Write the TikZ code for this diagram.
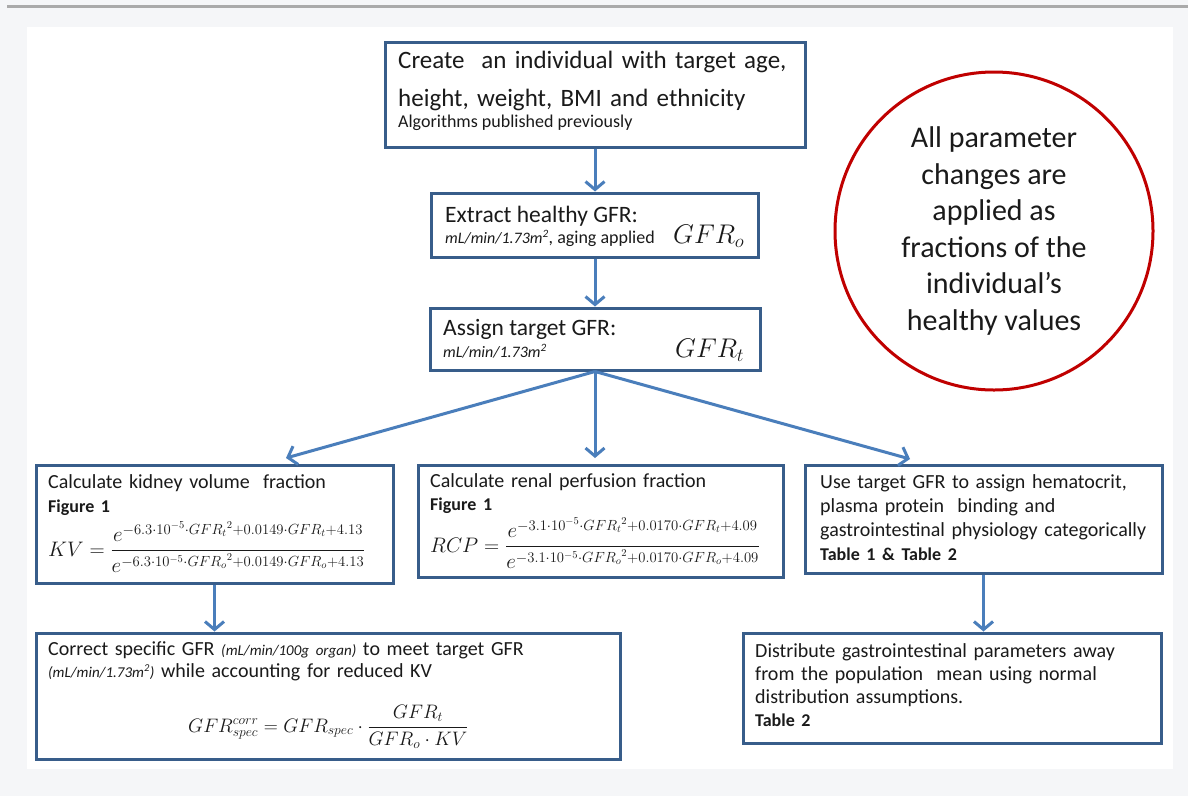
\RequirePackage{fix-cm}
\documentclass[tikz,border=0pt]{standalone}
\usepackage{amsmath}
\usepackage{fontspec}
\setmainfont{Carlito}
\usetikzlibrary{arrows.meta}
\definecolor{boxblue}{HTML}{385D8A}
\definecolor{arrblue}{HTML}{4A7EBB}
\definecolor{circred}{HTML}{C00000}
\definecolor{pagegray}{HTML}{F5F6F8}
\definecolor{bargray}{HTML}{AAAAAA}
\definecolor{inkblack}{HTML}{1A1A1A}
\newcommand{\fs}[2]{\fontsize{#1}{#2}\selectfont}
\tikzset{
    box/.style={draw=boxblue, line width=3pt, fill=white, inner sep=0pt},
    lbl/.style={anchor=base west, inner sep=0pt, text=inkblack},
    para/.style={lbl, align=left},
    arr/.style={draw=arrblue, line width=3pt, -{Straight Barb[length=8pt,width=19pt]}}
}
\begin{document}
\begin{tikzpicture}[x=1pt,y=-1pt]
    \useasboundingbox (0,0) rectangle (1188,796);
    \fill[pagegray] (0,0) rectangle (1188,796);
    \draw[bargray, line width=3pt] (7,6.5) -- (1188,6.5);
    \fill[white] (27,27) rectangle (1173,769);
    % boxes
    \node[box, minimum width=420, minimum height=105] (create) at (595,94.5) {};
    \node[box, minimum width=327, minimum height=64] (extract) at (595,225) {};
    \node[box, minimum width=330, minimum height=62] (assign) at (595,339) {};
    \node[box, minimum width=357, minimum height=118] (kv) at (214.5,524) {};
    \node[box, minimum width=365, minimum height=112] (rcp) at (600.5,521) {};
    \node[box, minimum width=357, minimum height=108] (hema) at (983.5,519) {};
    \node[box, minimum width=584, minimum height=126] (corr) at (328,696) {};
    \node[box, minimum width=418, minimum height=110] (dist) at (952,688) {};
    \node[circle, draw=circred, line width=3pt, minimum size=318, align=center,
          text=inkblack, font=\fs{30}{36.5}] (note) at (994,231)
          {All parameter\\changes are\\applied as\\fractions of the\\individual’s\\healthy values};
    % texts
    \node[para, text width=450, font=\fs{25}{38}] (createtx) at (398,68)
          {Create\ \ an individual with target age,\\height, weight, BMI and ethnicity};
    \node[lbl, font=\fs{18}{22}] (createsub) at (398,127) {Algorithms published previously};
    \node[lbl, font=\fs{23.5}{28}] (extracttx) at (445,222) {Extract healthy GFR:};
    \node[lbl, font=\fs{18}{20}] (extractsub) at (445,243)
          {{\fs{16}{18}\itshape mL/min/1.73m\textsuperscript{2}}, aging applied};
    \node[lbl, font=\fs{27}{32}] (gfro) at (673,243) {$GFR_o$};
    \node[lbl, font=\fs{23.5}{28}] (assigntx) at (443,335) {Assign target GFR:};
    \node[lbl, font=\fs{16}{18}\itshape] (assignsub) at (443,357) {mL/min/1.73m\textsuperscript{2}};
    \node[lbl, font=\fs{27}{32}] (gfrt) at (675,357) {$GFR_t$};
    \node[para, text width=345, font=\fs{20}{24}] (kvtx) at (48,488)
          {Calculate kidney volume\ \ fraction\\{\bfseries\fs{18}{24}Figure 1}};
    \node[lbl, font=\fs{21}{26}] (kvf) at (48,556)
          {$KV = \dfrac{e^{-6.3\cdot10^{-5}\cdot {GFR_t}^2+0.0149\cdot GFR_t+4.13}}{e^{-6.3\cdot10^{-5}\cdot {GFR_o}^2+0.0149\cdot GFR_o+4.13}}$};
    \node[para, text width=350, font=\fs{20}{23}] (rcptx) at (430,487)
          {Calculate renal perfusion fraction\\{\bfseries\fs{18}{23}Figure 1}};
    \node[lbl, font=\fs{21}{26}] (rcpf) at (430,552)
          {$RCP = \dfrac{e^{-3.1\cdot10^{-5}\cdot {GFR_t}^2+0.0170\cdot GFR_t+4.09}}{e^{-3.1\cdot10^{-5}\cdot {GFR_o}^2+0.0170\cdot GFR_o+4.09}}$};
    \node[para, text width=345, font=\fs{20}{24.3}] (hematx) at (820,488)
          {Use target GFR to assign hematocrit,\\plasma protein\ \ binding and\\gastrointestinal physiology categorically\\{\bfseries\fs{18}{24}Table 1 \& Table 2}};
    \node[para, text width=560, font=\fs{20}{22}] (corrtx) at (48,655)
          {Correct\ specific GFR {\fs{15}{18}\itshape(mL/min/100g organ)} to meet target GFR\\{\fs{15}{18}\itshape(mL/min/1.73m\textsuperscript{2})} while accounting for reduced KV};
    \node[lbl, font=\fs{19.5}{24}] (corrf) at (188,732)
          {$GFR^{corr}_{spec} = GFR_{spec}\cdot\dfrac{GFR_t}{GFR_o\cdot KV}$};
    \node[para, text width=400, font=\fs{20}{23}] (disttx) at (755,657)
          {Distribute gastrointestinal parameters away\\from the population\ \ mean using normal\\distribution assumptions.\\{\bfseries\fs{18}{23}Table 2}};
    % connectors
    \coordinate (kvtip) at (286,458);
    \coordinate (rcptip) at (595,458);
    \coordinate (hematip) at (910,459);
    \draw[arr] (create) -- (extract);
    \draw[arr] (extract) -- (assign);
    \draw[arr] (assign.south) -- (kvtip);
    \draw[arr] (assign.south) -- (rcptip);
    \draw[arr] (assign.south) -- (hematip);
    \draw[arr] (kv.south) -- (kv.south |- corr.north);
    \draw[arr] (hema.south) -- (hema.south |- dist.north);
\end{tikzpicture}
\end{document}
